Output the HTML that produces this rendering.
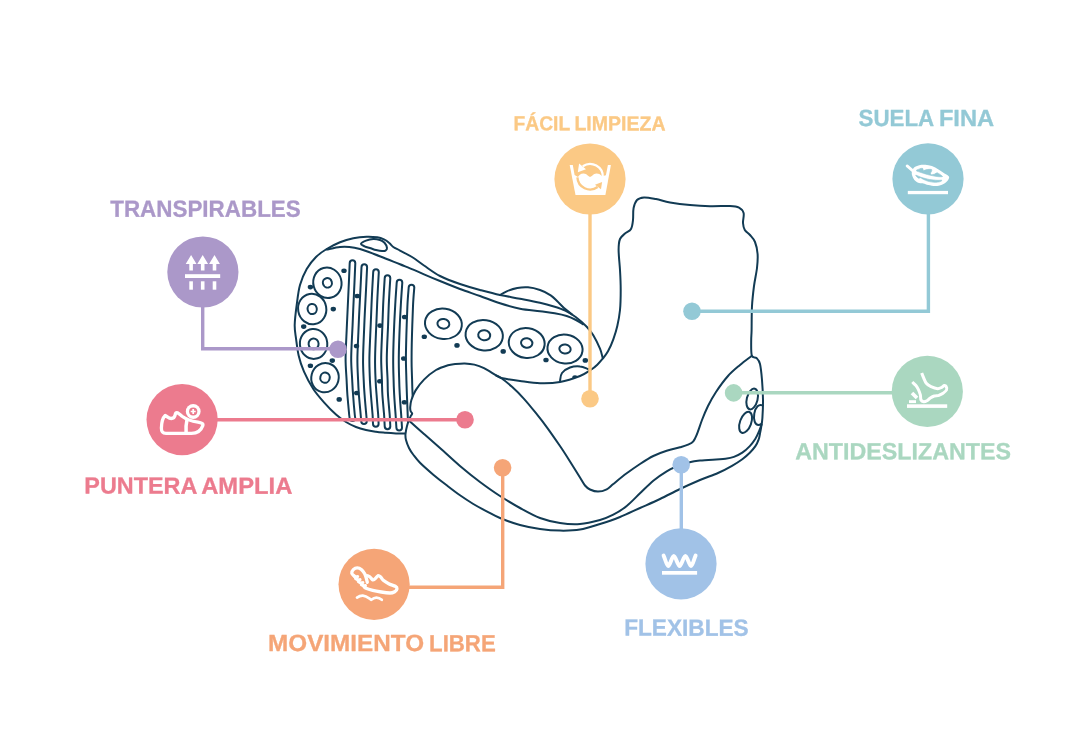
<!DOCTYPE html>
<html lang="es">
<head>
<meta charset="utf-8">
<title>Características</title>
<style>
html,body{margin:0;padding:0;background:#fff;}
body{width:1080px;height:750px;overflow:hidden;}
svg{display:block;will-change:transform;}
text{font-family:"Liberation Sans",sans-serif;font-weight:bold;stroke-linejoin:round;text-rendering:geometricPrecision;}
.ln{fill:none;stroke-width:3.4;}
.sh{fill:none;stroke:#123b54;stroke-width:2;stroke-linecap:round;stroke-linejoin:round;}
.ic{fill:none;stroke:#fff;stroke-width:2.4;stroke-linecap:round;stroke-linejoin:round;}
</style>
</head>
<body>
<svg width="1080" height="750" viewBox="0 0 1080 750">
<rect width="1080" height="750" fill="#fff"/>

<!-- SHOE -->
<g id="shoe" class="sh">
<path d="M405.3 433.5C403.8 433.5 399.2 433.5 396.0 433.4C392.8 433.3 389.3 433.1 386.0 432.8C382.7 432.5 379.3 432.3 376.0 431.8C372.7 431.3 369.3 430.8 366.0 430.0C362.7 429.2 359.3 428.3 356.0 427.0C352.7 425.7 349.3 424.1 346.0 422.0C342.7 419.9 339.7 417.8 336.0 414.5C332.3 411.2 327.8 406.6 324.0 402.3C320.2 398.1 316.6 394.1 313.3 389.0C310.0 383.9 306.4 377.2 304.0 371.7C301.6 366.1 300.0 361.3 298.7 355.7C297.4 350.1 296.7 343.4 296.0 338.3C295.3 333.2 294.6 330.6 294.7 325.0C294.8 319.4 295.8 311.7 296.7 305.0C297.6 298.3 298.3 291.0 300.0 285.0C301.7 279.0 304.0 273.7 306.7 269.0C309.4 264.3 312.7 260.3 316.0 257.0C319.3 253.7 322.7 251.4 326.7 249.0C330.7 246.6 335.6 244.1 340.0 242.3C344.4 240.5 348.9 239.2 353.3 238.3C357.8 237.4 362.7 236.9 366.7 236.7C370.7 236.5 374.4 236.9 377.3 237.3C380.2 237.8 382.0 238.5 384.0 239.4C386.0 240.3 387.8 241.7 389.3 243.0C390.9 244.3 391.5 245.7 393.3 247.0C395.1 248.3 396.9 248.9 400.0 250.6C403.1 252.3 408.0 254.5 412.0 257.0C416.0 259.5 419.3 262.3 424.0 265.5C428.7 268.7 434.0 272.9 440.0 276.0C446.0 279.1 453.3 281.7 460.0 284.0C466.7 286.3 473.3 288.2 480.0 290.0C486.7 291.8 493.3 293.6 500.0 295.0C506.7 296.4 513.3 297.4 520.0 298.7C526.7 300.0 534.2 301.4 540.0 302.7C545.8 304.0 550.5 305.4 554.7 306.7C558.9 308.0 561.8 308.9 565.3 310.7C568.8 312.5 572.4 314.6 576.0 317.3C579.6 320.0 583.8 323.7 586.7 326.7C589.6 329.7 591.1 331.6 593.3 335.3C595.5 339.0 598.4 344.9 600.0 348.7C601.6 352.5 602.2 356.4 602.7 358.0"/>
<path d="M326.7 249.5C328.9 249.1 336.2 247.4 340.0 247.0C343.8 246.6 346.0 246.7 349.3 247.0C352.6 247.3 356.0 247.9 360.0 249.0C364.0 250.1 368.9 252.0 373.3 253.7C377.8 255.4 382.2 257.2 386.7 259.0C391.1 260.8 395.6 262.5 400.0 264.3C404.4 266.1 409.3 268.0 413.3 269.7C417.3 271.4 419.6 272.4 424.0 274.3C428.4 276.2 434.0 278.6 440.0 281.0C446.0 283.4 453.3 286.5 460.0 289.0C466.7 291.5 473.3 293.6 480.0 296.0C486.7 298.4 493.3 301.2 500.0 303.3C506.7 305.4 513.3 307.4 520.0 308.7C526.7 310.0 534.2 310.5 540.0 311.3C545.8 312.1 550.2 312.5 554.7 313.3C559.2 314.1 563.2 314.9 566.7 316.0C570.2 317.1 573.3 318.6 576.0 320.0C578.7 321.4 581.8 323.6 583.0 324.3"/>
<path d="M500.0 295.0C501.1 294.4 503.8 292.5 506.7 291.3C509.6 290.1 513.8 288.7 517.3 288.0C520.8 287.3 524.2 287.0 528.0 287.3C531.8 287.6 536.2 288.7 540.0 290.0C543.8 291.3 547.8 293.4 550.7 295.3C553.6 297.2 555.1 299.2 557.3 301.3C559.5 303.4 561.5 305.8 564.0 308.0C566.5 310.2 570.7 313.4 572.0 314.5"/>
<path d="M361.0 243.7C361.2 242.8 363.9 241.4 366.0 240.6C368.1 239.8 371.0 239.1 373.3 239.0C375.6 238.9 378.1 239.4 380.0 240.0C381.9 240.6 383.3 241.5 384.5 242.8C385.7 244.1 386.8 246.7 387.0 248.0C387.2 249.3 386.3 250.1 385.5 250.6C384.7 251.1 383.6 251.1 382.0 251.0C380.4 250.9 377.9 250.4 376.0 250.0C374.1 249.6 372.6 248.9 370.7 248.3C368.8 247.7 366.1 247.1 364.5 246.3C362.9 245.5 360.8 244.6 361.0 243.7Z"/>
<path d="M560.0 381.0C560.3 379.7 560.3 375.2 562.0 373.0C563.7 370.8 567.0 368.6 570.0 367.5C573.0 366.4 577.0 366.1 580.0 366.4C583.0 366.6 586.7 368.6 588.0 369.0"/>
<ellipse cx="327.4" cy="282.8" rx="14.1" ry="15.3" transform="rotate(-15 327.4 282.8)"/>
<ellipse cx="327.4" cy="282.8" rx="4.5" ry="4.8" transform="rotate(-15 327.4 282.8)"/>
<ellipse cx="312.2" cy="309.0" rx="14.1" ry="15.3" transform="rotate(-10 312.2 309.0)"/>
<ellipse cx="312.2" cy="309.0" rx="4.6" ry="5.1" transform="rotate(-10 312.2 309.0)"/>
<ellipse cx="313.6" cy="343.9" rx="13.7" ry="15.0" transform="rotate(-5 313.6 343.9)"/>
<ellipse cx="313.6" cy="343.9" rx="5.0" ry="5.3" transform="rotate(-5 313.6 343.9)"/>
<ellipse cx="325.0" cy="377.7" rx="13.7" ry="14.7" transform="rotate(15 325.0 377.7)"/>
<ellipse cx="325.0" cy="377.7" rx="4.7" ry="5.1" transform="rotate(15 325.0 377.7)"/>
<ellipse cx="443.4" cy="323.8" rx="18.5" ry="15.2" transform="rotate(8 443.4 323.8)"/>
<ellipse cx="443.4" cy="323.8" rx="6.0" ry="4.8" transform="rotate(8 443.4 323.8)"/>
<ellipse cx="484.2" cy="335.2" rx="18.7" ry="15.2" transform="rotate(8 484.2 335.2)"/>
<ellipse cx="484.2" cy="335.2" rx="6.0" ry="5.0" transform="rotate(8 484.2 335.2)"/>
<ellipse cx="526.7" cy="343.0" rx="18.0" ry="15.0" transform="rotate(8 526.7 343.0)"/>
<ellipse cx="526.7" cy="343.0" rx="5.7" ry="4.7" transform="rotate(8 526.7 343.0)"/>
<ellipse cx="565.0" cy="349.0" rx="17.6" ry="14.4" transform="rotate(8 565.0 349.0)"/>
<ellipse cx="565.0" cy="349.0" rx="5.7" ry="4.5" transform="rotate(8 565.0 349.0)"/>
<path d="M349.7 418.2C349.6 417.7 349.6 418.9 349.2 415.0C348.8 411.1 347.9 400.8 347.4 395.0C347.0 389.2 346.9 386.2 346.6 380.0C346.3 373.8 345.5 366.7 345.6 357.5C345.7 348.3 346.5 335.4 346.9 325.0C347.4 314.6 347.8 305.3 348.3 295.0C348.8 284.7 349.5 268.4 349.7 263.1C349.9 259.4 355.1 259.4 355.3 263.1C355.1 268.4 354.4 284.7 353.9 295.0C353.4 305.3 353.0 314.6 352.6 325.0C352.1 335.4 351.3 348.3 351.2 357.5C351.1 366.7 351.9 373.8 352.2 380.0C352.5 386.2 352.6 389.2 353.1 395.0C353.5 400.8 354.4 411.1 354.8 415.0C355.2 418.9 355.2 417.7 355.3 418.2C355.1 421.9 349.9 421.9 349.7 418.2Z"/>
<path d="M361.2 421.2C361.1 420.2 361.1 419.4 360.7 415.0C360.3 410.6 359.4 400.8 358.9 395.0C358.5 389.2 358.3 386.2 358.1 380.0C357.8 373.8 357.3 366.7 357.4 357.5C357.6 348.3 358.3 335.2 358.7 325.0C359.1 314.8 359.6 305.6 360.1 296.0C360.6 286.4 361.3 271.9 361.5 267.1C361.7 263.4 366.9 263.4 367.1 267.1C366.9 271.9 366.2 286.4 365.7 296.0C365.2 305.6 364.7 314.8 364.3 325.0C363.9 335.2 363.2 348.3 363.1 357.5C362.9 366.7 363.4 373.8 363.7 380.0C363.9 386.2 364.1 389.2 364.6 395.0C365.0 400.8 365.9 410.6 366.3 415.0C366.7 419.4 366.7 420.2 366.8 421.2C366.6 424.9 361.4 424.9 361.2 421.2Z"/>
<path d="M373.0 424.0C372.9 422.5 372.9 419.8 372.6 415.0C372.2 410.2 371.4 400.8 370.9 395.0C370.5 389.2 370.2 386.2 369.9 380.0C369.7 373.8 369.3 366.7 369.4 357.5C369.6 348.3 370.3 334.9 370.7 325.0C371.1 315.1 371.4 306.8 371.8 298.0C372.2 289.2 373.0 276.4 373.2 272.1C373.4 268.4 378.6 268.4 378.8 272.1C378.6 276.4 377.8 289.2 377.4 298.0C377.0 306.8 376.7 315.1 376.3 325.0C375.9 334.9 375.2 348.3 375.1 357.5C374.9 366.7 375.3 373.8 375.6 380.0C375.8 386.2 376.1 389.2 376.6 395.0C377.0 400.8 377.8 410.2 378.2 415.0C378.5 419.8 378.5 422.5 378.6 424.0C378.4 427.7 373.2 427.7 373.0 424.0Z"/>
<path d="M384.7 426.4C384.6 424.5 384.5 420.2 384.1 415.0C383.7 409.8 382.8 400.8 382.4 395.0C382.0 389.2 382.1 386.2 381.9 380.0C381.8 373.8 381.1 366.7 381.2 357.5C381.3 348.3 382.1 334.6 382.4 325.0C382.8 315.4 383.0 307.8 383.4 300.0C383.8 292.2 384.5 281.8 384.7 278.1C384.9 274.4 390.1 274.4 390.3 278.1C390.1 281.8 389.4 292.2 389.0 300.0C388.6 307.8 388.4 315.4 388.1 325.0C387.7 334.6 386.9 348.3 386.8 357.5C386.7 366.7 387.4 373.8 387.6 380.0C387.8 386.2 387.6 389.2 388.0 395.0C388.4 400.8 389.3 409.8 389.7 415.0C390.1 420.2 390.2 424.5 390.3 426.4C390.1 430.1 384.9 430.1 384.7 426.4Z"/>
<path d="M396.4 427.7C396.3 425.6 395.9 420.4 395.6 415.0C395.2 409.6 394.5 400.8 394.2 395.0C393.9 389.2 393.7 386.2 393.6 380.0C393.4 373.8 393.1 366.7 393.2 357.5C393.3 348.3 393.8 334.2 394.2 325.0C394.6 315.8 395.0 309.1 395.4 302.0C395.8 294.9 396.5 285.8 396.7 282.6C396.9 278.9 402.1 278.9 402.3 282.6C402.1 285.8 401.4 294.9 401.0 302.0C400.6 309.1 400.2 315.8 399.8 325.0C399.4 334.2 398.9 348.3 398.8 357.5C398.7 366.7 399.0 373.8 399.2 380.0C399.3 386.2 399.5 389.2 399.8 395.0C400.1 400.8 400.8 409.6 401.2 415.0C401.5 420.4 401.9 425.6 402.0 427.7C401.8 431.4 396.6 431.4 396.4 427.7Z"/>
<path d="M408.2 427.2C408.1 425.2 407.9 420.4 407.7 415.0C407.5 409.6 407.2 400.8 406.9 395.0C406.7 389.2 406.6 386.2 406.4 380.0C406.3 373.8 405.9 366.7 405.9 357.5C406.0 348.3 406.4 333.9 406.7 325.0C407.0 316.1 407.2 310.3 407.5 304.0C407.8 297.7 408.5 290.2 408.7 287.4C408.9 283.7 414.1 283.7 414.3 287.4C414.1 290.2 413.4 297.7 413.1 304.0C412.8 310.3 412.6 316.1 412.3 325.0C412.0 333.9 411.6 348.3 411.6 357.5C411.5 366.7 411.9 373.8 412.1 380.0C412.2 386.2 412.3 389.2 412.6 395.0C412.8 400.8 413.1 409.6 413.3 415.0C413.5 420.4 413.7 425.2 413.8 427.2C413.6 430.9 408.4 430.9 408.2 427.2Z"/>
<g fill="#123b54" stroke="none"><ellipse cx="344.0" cy="270.7" rx="2.7" ry="2.3"/><ellipse cx="310.4" cy="287.1" rx="2.7" ry="2.3"/><ellipse cx="333.3" cy="309.1" rx="2.7" ry="2.3"/><ellipse cx="357.3" cy="296.0" rx="2.7" ry="2.3"/><ellipse cx="404.6" cy="317.0" rx="2.7" ry="2.3"/><ellipse cx="303.7" cy="326.6" rx="2.7" ry="2.3"/><ellipse cx="356.5" cy="346.0" rx="2.7" ry="2.3"/><ellipse cx="332.3" cy="360.6" rx="2.7" ry="2.3"/><ellipse cx="310.4" cy="365.7" rx="2.7" ry="2.3"/><ellipse cx="339.2" cy="399.4" rx="2.7" ry="2.3"/><ellipse cx="356.7" cy="393.0" rx="2.7" ry="2.3"/><ellipse cx="379.8" cy="381.2" rx="2.7" ry="2.3"/><ellipse cx="380.0" cy="325.6" rx="2.7" ry="2.3"/><ellipse cx="403.7" cy="358.5" rx="2.7" ry="2.3"/><ellipse cx="404.4" cy="402.3" rx="2.7" ry="2.3"/><ellipse cx="424.3" cy="336.8" rx="2.7" ry="2.3"/><ellipse cx="457.0" cy="345.4" rx="2.7" ry="2.3"/><ellipse cx="503.2" cy="351.4" rx="2.7" ry="2.3"/><ellipse cx="546.0" cy="360.0" rx="2.7" ry="2.3"/><ellipse cx="585.3" cy="360.4" rx="2.7" ry="2.3"/><ellipse cx="575.0" cy="377.6" rx="2.7" ry="2.3"/></g>
<path d="M620.0 270.0C620.4 276.7 620.7 283.3 620.7 290.0C620.7 296.7 620.6 304.0 620.0 310.0C619.4 316.0 618.4 321.1 617.3 326.0C616.2 330.9 614.8 335.1 613.3 339.3C611.8 343.5 609.8 348.1 608.0 351.3C606.2 354.5 604.5 356.5 602.7 358.7C600.9 360.9 599.3 362.8 597.3 364.7C595.3 366.6 593.6 368.1 590.7 370.0C587.8 371.9 585.1 374.0 580.0 376.0C574.9 378.0 566.7 380.8 560.0 382.0C553.3 383.2 546.7 383.4 540.0 383.2C533.3 383.0 525.3 381.6 520.0 380.9C514.7 380.2 511.2 379.7 508.0 379.2C504.8 378.7 502.0 378.0 500.8 377.8C499.6 377.6 501.6 378.2 500.8 377.8C500.0 377.4 498.8 377.0 496.0 375.4C493.2 373.8 487.6 370.0 484.0 368.2C480.4 366.4 477.6 365.4 474.4 364.6C471.2 363.8 468.0 363.5 464.8 363.4C461.6 363.3 458.0 363.7 455.2 364.0C452.4 364.3 451.2 364.2 448.0 365.2C444.8 366.2 440.0 367.6 436.0 370.0C432.0 372.4 427.4 376.2 424.0 379.6C420.6 383.0 417.7 387.0 415.6 390.4C413.5 393.8 412.3 397.2 411.4 400.0C410.5 402.8 410.3 405.4 410.2 407.2C410.1 409.0 410.3 409.9 410.6 411.0C410.9 412.1 412.2 412.7 412.2 413.6C412.2 414.5 411.1 415.3 410.6 416.4C410.1 417.5 409.6 418.4 409.0 420.0C408.4 421.6 407.6 423.7 407.0 426.0C406.4 428.3 405.7 431.7 405.5 434.0C405.3 436.3 405.4 437.7 406.0 440.0C406.6 442.3 407.8 445.5 409.0 448.0C410.2 450.5 411.7 452.6 413.5 455.0C415.3 457.4 416.7 459.4 420.0 462.7C423.3 466.0 428.9 470.9 433.3 474.7C437.8 478.5 442.2 481.9 446.7 485.3C451.1 488.7 455.6 492.2 460.0 495.3C464.4 498.4 468.9 501.3 473.3 504.0C477.8 506.7 482.2 509.0 486.7 511.3C491.1 513.6 494.4 515.7 500.0 518.0C505.6 520.3 513.3 523.2 520.0 525.0C526.7 526.8 533.3 528.1 540.0 529.0C546.7 529.9 553.3 530.5 560.0 530.6C566.7 530.7 573.3 530.7 580.0 529.6C586.7 528.5 593.3 526.1 600.0 524.0C606.7 521.9 613.3 519.7 620.0 517.0C626.7 514.3 633.3 511.0 640.0 508.0C646.7 505.0 653.3 502.2 660.0 499.0C666.7 495.8 673.3 492.2 680.0 489.0C686.7 485.8 693.7 482.7 700.0 480.0C706.3 477.3 712.7 475.4 718.0 473.0C723.3 470.6 728.0 468.1 732.0 465.8C736.0 463.5 739.3 461.4 742.3 459.2C745.3 457.0 747.6 454.9 749.8 452.7C752.0 450.5 753.9 448.3 755.4 446.1C756.9 443.9 757.9 441.6 758.6 439.6C759.4 437.6 759.5 436.0 759.9 434.0C760.3 432.0 760.7 430.2 761.1 427.5C761.5 424.8 762.1 422.6 762.4 418.0C762.7 413.4 763.1 406.3 763.0 400.0C762.9 393.7 762.5 386.0 762.0 380.0C761.5 374.0 760.9 367.7 760.0 364.0C759.1 360.3 757.9 359.4 756.5 358.0C755.1 356.6 752.7 358.5 751.8 355.5C750.9 352.5 751.2 344.2 751.2 340.0C751.2 335.8 751.5 335.7 751.6 330.0C751.7 324.3 751.6 313.3 752.0 306.0C752.4 298.7 753.2 292.3 754.0 286.0C754.8 279.7 756.4 273.3 757.0 268.0C757.6 262.7 757.9 258.3 757.6 254.0C757.3 249.7 756.3 245.2 755.0 242.0C753.7 238.8 751.7 237.0 750.0 235.0C748.3 233.0 746.0 232.0 744.8 230.0C743.6 228.0 743.2 225.8 743.0 223.0C742.8 220.2 744.3 215.6 743.6 213.0C742.9 210.4 741.3 208.8 739.0 207.6C736.7 206.4 734.8 206.2 730.0 206.0C725.2 205.8 716.7 206.4 710.0 206.2C703.3 206.0 696.7 205.6 690.0 205.0C683.3 204.4 675.7 203.4 670.0 202.4C664.3 201.4 660.3 199.8 656.0 199.0C651.7 198.2 647.2 197.2 644.0 197.4C640.8 197.6 638.7 198.2 637.0 200.0C635.3 201.8 634.3 204.7 633.6 208.0C632.9 211.3 633.4 216.5 633.0 220.0C632.6 223.5 632.3 226.7 631.0 229.0C629.7 231.3 626.8 231.9 625.0 233.6C623.2 235.3 621.1 236.3 620.0 239.0C618.9 241.7 618.6 244.8 618.6 250.0C618.6 255.2 619.6 263.3 620.0 270.0Z" fill="#fff"/>
<path d="M496.0 375.4C496.8 375.8 498.1 375.9 500.8 377.8C503.5 379.7 508.1 383.3 512.0 386.8C515.9 390.3 520.0 394.4 524.0 398.8C528.0 403.2 532.0 408.2 536.0 413.2C540.0 418.2 544.0 423.3 548.0 428.8C552.0 434.3 556.3 440.6 560.0 446.0C563.7 451.4 566.7 456.2 570.0 461.5C573.3 466.8 577.5 473.5 580.0 477.5C582.5 481.5 583.3 483.5 585.0 485.5C586.7 487.5 587.8 488.5 590.0 489.5C592.2 490.5 595.2 491.6 598.0 491.6C600.8 491.6 604.2 490.6 606.7 489.3C609.2 488.0 610.0 486.7 613.3 484.0C616.6 481.3 622.2 476.6 626.7 473.3C631.2 470.0 635.6 466.9 640.0 464.0C644.4 461.1 648.8 458.2 653.3 456.0C657.8 453.8 662.2 452.1 666.7 450.7C671.2 449.2 676.5 448.3 680.0 447.3C683.5 446.3 685.8 445.7 688.0 444.7C690.2 443.7 691.8 443.1 693.3 441.3C694.8 439.5 695.5 437.6 697.0 434.0C698.5 430.4 700.2 424.7 702.0 420.0C703.8 415.3 705.7 410.7 708.0 406.0C710.3 401.3 712.7 397.0 716.0 392.0C719.3 387.0 724.0 380.5 728.0 376.0C732.0 371.5 736.1 368.3 740.0 365.0C743.9 361.7 749.7 357.5 751.6 356.0"/>
<path d="M410.0 421.5C412.3 423.6 419.0 429.6 424.0 434.0C429.0 438.4 434.0 442.7 440.0 448.0C446.0 453.3 453.3 460.3 460.0 466.0C466.7 471.7 473.3 477.0 480.0 482.0C486.7 487.0 493.3 491.7 500.0 496.0C506.7 500.3 513.3 504.3 520.0 508.0C526.7 511.7 533.3 515.5 540.0 518.0C546.7 520.5 553.3 522.0 560.0 523.0C566.7 524.0 573.3 524.5 580.0 524.0C586.7 523.5 594.5 521.5 600.0 520.0C605.5 518.5 608.8 517.0 613.3 514.7C617.8 512.4 622.2 509.6 626.7 506.0C631.2 502.4 635.6 497.5 640.0 493.3C644.4 489.1 648.8 484.4 653.3 480.7C657.8 477.0 663.1 473.5 666.7 471.3C670.3 469.1 670.7 468.9 674.7 467.3C678.7 465.8 686.5 463.1 690.7 462.0C694.9 460.9 695.8 461.0 700.0 460.6C704.2 460.2 711.9 459.7 716.1 459.4C720.4 459.1 722.5 459.1 725.5 458.7C728.5 458.3 731.1 457.9 733.9 456.9C736.7 455.9 739.6 454.5 742.3 452.7C744.9 450.9 747.6 448.4 749.8 446.1C752.0 443.8 753.8 441.2 755.4 438.7C757.0 436.2 758.1 433.6 759.1 431.2C760.1 428.8 761.2 425.6 761.6 424.5"/>
<ellipse cx="752.2" cy="399" rx="5.4" ry="10.6" transform="rotate(14 752.2 399)"/>
<ellipse cx="745.6" cy="422.4" rx="5.6" ry="11" transform="rotate(20 745.6 422.4)"/>
<path d="M762.6 405.5C759 403.5 755.5 407 754.3 413.5C753.2 420 755 425 758.5 425C759.5 425 760.3 424.6 761 424"/>
</g>

<!-- CONNECTORS -->
<g id="connectors">
  <path class="ln" stroke="#ab98c9" d="M202.7 300V348.7H338"/>
  <circle cx="338" cy="349.3" r="8.8" fill="#ab98c9"/>
  <path class="ln" stroke="#ec7b8e" d="M215 419.7H465"/>
  <circle cx="465" cy="419.7" r="8.8" fill="#ec7b8e"/>
  <path class="ln" stroke="#fbc985" d="M590 210V399"/>
  <circle cx="590" cy="398.8" r="8.8" fill="#fbc985"/>
  <path class="ln" stroke="#93c9d6" d="M928.4 210V311.2H692"/>
  <circle cx="692" cy="311.2" r="8.8" fill="#93c9d6"/>
  <path class="ln" stroke="#aad7c0" d="M900 392.8H733.6"/>
  <circle cx="733.6" cy="392.9" r="8.8" fill="#aad7c0"/>
  <path class="ln" stroke="#a1c2e7" d="M681.3 535V465"/>
  <circle cx="681.2" cy="464.8" r="8.8" fill="#a1c2e7"/>
  <path class="ln" stroke="#f5a577" d="M405 587.3H502.7V468"/>
  <circle cx="502.6" cy="467.8" r="8.8" fill="#f5a577"/>
</g>

<!-- BADGES -->
<g id="badges">
  <circle cx="202.9" cy="272" r="35.6" fill="#ab98c9"/>
  <circle cx="182.1" cy="419.6" r="35.6" fill="#ec7b8e"/>
  <circle cx="590" cy="179" r="35.6" fill="#fbc985"/>
  <circle cx="928" cy="178.8" r="35.6" fill="#93c9d6"/>
  <circle cx="927.3" cy="391.4" r="35.6" fill="#aad7c0"/>
  <circle cx="681" cy="563.8" r="35.6" fill="#a1c2e7"/>
  <circle cx="374.1" cy="584.3" r="35.6" fill="#f5a577"/>
</g>

<!-- ICONS -->
<g id="icons">
<g fill="#fff"><path d="M191.1 254.9L196.5 263.9H192.9V270.6H189.3V263.9H185.7Z"/><rect x="189.3" y="281.3" width="3.6" height="8.4"/><path d="M202.7 254.9L208.1 263.9H204.5V270.6H200.9V263.9H197.3Z"/><rect x="200.9" y="281.3" width="3.6" height="8.4"/><path d="M214.5 254.9L219.9 263.9H216.3V270.6H212.7V263.9H209.1Z"/><rect x="212.7" y="281.3" width="3.6" height="8.4"/><rect x="185" y="274.2" width="35.2" height="3.8"/></g>
<g class="ic" style="stroke-width:3.3"><path d="M165.2 415.5C162.6 418 161.5 423 161.4 428C161.3 431.6 162.6 433.3 166 433.3H191.5C197.5 433.3 201.3 429.8 202.8 425.6C203.5 423.8 201.6 422.8 198 422.2C191 421 186 419.2 182 416.2C180 414.6 178.7 413.4 177.5 412.8C176.1 412.2 175.4 413.2 175.1 415C174.7 417.4 173.6 418.5 171.2 418.5C168.7 418.5 167.2 416.3 165.2 415.5Z"/><path d="M186.9 420.4C185.9 424.5 185.8 429 186.1 433.2" style="stroke-width:3.5"/></g><circle cx="193.2" cy="411.5" r="7.4" fill="#fff"/><circle cx="193.2" cy="411.5" r="4.1" fill="#ec7b8e"/><path d="M190.7 411.5H195.7M193.2 409V414" stroke="#fff" stroke-width="1.7" fill="none"/>
<g><path fill="#fff" d="M569.7 165.1H610.9L605.4 195H575.5Z"/><path fill="#fbc985" d="M572.8 165L574.6 174.9L578 176.9C578.6 175.6 580.4 173.4 583.7 173.4C586.9 173.4 588.3 176.8 590.1 176.8C591.9 176.8 593.3 173.4 596.4 173.4C599.2 173.4 600.8 174.8 602 176.2L605.9 175.3L607.9 165Z"/><path fill="none" stroke="#fff" stroke-width="2.3" d="M582.8 166.3A12.7 12.7 0 0 1 602.8 177.4"/><path fill="#fff" d="M577.8 172.3L579.1 163.6L586 169.2Z"/><path fill="none" stroke="#fbc985" stroke-width="2.3" d="M577.4 177.4A12.7 12.7 0 0 0 597.6 187.0"/><path fill="#fbc985" d="M602.1 181.9L601 189.3L595 184.8Z"/></g>
<path fill="#fff" d="M914.1 167.6C915.3 166.5 917.3 165.8 919.2 165.3C921.1 164.8 923.2 164.7 925.3 164.8C927.4 164.9 929.7 165.3 931.9 166.1C934.1 166.9 936.4 168.4 938.5 169.6C940.6 170.8 942.7 172.2 944.5 173.4C946.3 174.6 948.7 175.4 949.1 176.7C949.5 178.0 948.3 180.0 947.1 181.3C945.9 182.7 944.0 184.0 942.0 184.8C940.0 185.6 937.7 186.1 935.4 186.1C933.1 186.1 930.3 185.5 928.3 185.1C926.3 184.7 924.8 183.7 923.3 183.4C921.8 183.1 920.6 183.5 919.2 183.1C917.9 182.7 916.3 182.0 915.2 180.8C914.1 179.7 913.0 177.7 912.4 176.2C911.8 174.7 911.6 173.1 911.9 171.7C912.2 170.3 912.9 168.7 914.1 167.6Z"/><path fill="#93c9d6" stroke="#93c9d6" stroke-width="0.7" stroke-linejoin="round" d="M916.2 170.6C916.1 170.1 920.4 168.6 921.2 168.4C922.0 168.2 922.5 168.3 922.8 168.6C923.1 168.9 923.0 170.5 923.5 170.6C924.0 170.7 925.9 169.7 926.8 169.6C927.7 169.5 930.8 169.2 931.4 169.4C932.0 169.6 931.7 170.5 931.6 170.9C931.5 171.3 930.4 172.8 930.4 173.2C930.4 173.6 930.9 174.6 931.4 174.7C931.9 174.8 933.7 174.4 934.4 174.2C935.1 174.0 936.6 172.6 937.5 172.9C938.4 173.2 942.6 176.1 942.5 176.5C942.4 176.9 938.4 176.7 936.9 176.5C935.4 176.3 931.1 175.4 929.3 175.0C927.5 174.6 923.2 173.2 921.7 172.7C920.2 172.2 916.3 171.1 916.2 170.6ZM915.9 175.2C916.5 175.3 920.1 177.0 921.7 177.5C923.3 178.0 927.5 179.2 929.3 179.5C931.1 179.8 935.4 180.2 936.9 180.3C938.4 180.4 941.7 180.1 942.0 180.3C942.3 180.5 940.4 181.6 939.5 181.8C938.6 182.0 935.7 182.4 934.4 182.3C933.1 182.2 929.6 181.7 928.3 181.3C927.0 181.0 924.2 179.7 923.3 179.3C922.4 178.9 921.2 177.8 920.7 177.7C920.2 177.6 919.2 178.3 918.7 178.2C918.2 178.1 917.0 177.0 916.7 176.7C916.4 176.3 915.3 175.1 915.9 175.2Z"/><path d="M907.1 165.9L912.6 170.6" fill="none" stroke="#fff" stroke-width="2.8" stroke-linecap="round"/><rect x="907.8" y="190.9" width="40.2" height="3.3" fill="#fff"/>
<g class="ic" style="stroke-width:3;stroke-linecap:butt"><path d="M921.7 373.0C922.0 373.8 922.9 376.3 923.7 378.0C924.5 379.7 925.1 381.9 926.3 383.3C927.5 384.8 929.1 385.8 931.0 386.7C932.9 387.6 935.9 388.6 937.7 388.7C939.5 388.8 940.6 387.8 941.7 387.3C942.8 386.8 943.5 385.6 944.3 385.5C945.1 385.4 945.9 385.9 946.3 386.7C946.7 387.4 947.0 388.9 946.5 390.0C946.0 391.1 944.2 392.4 943.0 393.3C941.8 394.2 940.5 394.9 939.0 395.3C937.5 395.8 935.8 395.6 934.3 396.0C932.8 396.4 931.5 397.2 930.3 398.0C929.1 398.8 928.1 400.1 927.0 400.7C925.9 401.3 924.7 401.8 923.7 401.7C922.7 401.6 921.6 401.2 921.0 400.0C920.4 398.8 920.8 396.5 920.3 394.7C919.8 392.9 919.1 390.9 918.3 389.3C917.5 387.7 916.7 386.5 915.7 385.3C914.7 384.1 912.9 382.6 912.3 382.0"/><path d="M912 392.9L917 398" style="stroke-width:3.6"/></g><rect x="909" y="400.2" width="7" height="2.9" fill="#fff"/><rect x="907" y="404.3" width="40.2" height="3.6" fill="#fff"/>
<path class="ic" style="stroke-width:3.9" d="M663.6 555.6C665.5 559.5 666.6 566 668.2 566C670 566 672 555.9 673.8 555.9C675.6 555.9 677.8 566 679.6 566C681.4 566 683.6 555.9 685.4 555.9C687.2 555.9 689.3 566 691 566C692.7 566 693.8 559.5 695.6 555.6"/><rect x="662" y="571" width="35.1" height="3.7" fill="#fff"/>
<g class="ic" style="stroke-width:3.3"><path d="M367.3 582.3C367.1 581.6 366.7 579.7 366.3 578.3C365.9 576.9 365.5 575.2 364.7 573.7C363.9 572.2 362.5 570.5 361.3 569.5C360.1 568.5 358.6 567.9 357.3 567.9C356.0 567.9 354.2 568.8 353.3 569.7C352.4 570.6 351.6 572.2 351.8 573.3C352.0 574.4 353.9 575.7 354.3 576.2"/><path d="M354.3 576.2C355.5 577 356.5 577.2 357.6 576.6M355.6 578.6C357.3 580 358.6 580.2 360 579.6M358.4 581.6C360 583 361.4 583.2 362.8 582.6M361.4 584.6C362.8 585.6 364 586 365.4 585.6" style="stroke-width:3.2"/><path d="M367.3 575.7C367.8 575.9 369.1 576.3 370.0 577.0C370.9 577.7 371.8 579.6 372.7 579.9C373.6 580.1 374.4 579.2 375.3 578.5C376.2 577.8 377.1 576.0 378.0 575.7C378.9 575.5 379.8 576.2 380.7 577.0C381.6 577.8 382.0 579.2 383.3 580.3C384.6 581.4 386.7 582.7 388.7 583.7C390.7 584.7 393.9 585.5 395.3 586.3C396.7 587.1 397.1 587.8 397.0 588.7C396.9 589.6 395.9 591.0 394.7 591.7C393.5 592.4 392.2 593.0 390.0 593.0C387.8 593.0 384.2 592.5 381.3 592.0C378.4 591.5 375.2 590.9 372.7 590.3C370.1 589.7 367.4 588.9 366.0 588.3C364.6 587.7 364.3 587.0 364.0 586.7"/><path d="M357 597.6C359 596.2 361 595.6 362.9 595.7C366.5 595.9 369 598.4 371.3 599.8C373 598.4 374.8 597.6 376.4 597.6C378.6 597.6 380.4 598.6 381.8 599.8" style="stroke-width:2.7"/></g>
</g>

<!-- LABELS -->
<g id="labels">
  <text y="216" transform="matrix(1 0.0008 0 1 0 0.566)" font-size="23.4" fill="#ab98c9" stroke="#ab98c9" stroke-width="0.3"><tspan x="110.20" textLength="190.55" lengthAdjust="spacingAndGlyphs">TRANSPIRABLES</tspan></text>
  <text y="493" transform="matrix(1 0.0008 0 1 0 0.499)" font-size="23.4" fill="#ec7b8e" stroke="#ec7b8e" stroke-width="0.3"><tspan x="84.30" textLength="112.15" lengthAdjust="spacingAndGlyphs">PUNTERA</tspan> <tspan x="201.20" textLength="91.20" lengthAdjust="spacingAndGlyphs">AMPLIA</tspan></text>
  <text y="130" transform="matrix(1 0.0008 0 1 0 -0.122)" font-size="20.2" fill="#fbc985" stroke="#fbc985" stroke-width="0.3"><tspan x="513.45" textLength="56.45" lengthAdjust="spacingAndGlyphs">FÁCIL</tspan> <tspan x="574.45" textLength="91.05" lengthAdjust="spacingAndGlyphs">LIMPIEZA</tspan></text>
  <text y="126" transform="matrix(1 0.0008 0 1 0 -0.741)" font-size="23.4" fill="#93c9d6" stroke="#93c9d6" stroke-width="0.3"><tspan x="858.50" textLength="74.90" lengthAdjust="spacingAndGlyphs">SUELA</tspan> <tspan x="938.90" textLength="55.30" lengthAdjust="spacingAndGlyphs">FINA</tspan></text>
  <text y="459" transform="matrix(1 0.0008 0 1 0 -0.422)" font-size="23.4" fill="#aad7c0" stroke="#aad7c0" stroke-width="0.3"><tspan x="795.20" textLength="215.85" lengthAdjust="spacingAndGlyphs">ANTIDESLIZANTES</tspan></text>
  <text y="635" transform="matrix(1 0.0008 0 1 0 0.101)" font-size="23.4" fill="#a1c2e7" stroke="#a1c2e7" stroke-width="0.3"><tspan x="624.15" textLength="124.60" lengthAdjust="spacingAndGlyphs">FLEXIBLES</tspan></text>
  <text y="651" transform="matrix(1 0.0008 0 1 0 -0.206)" font-size="23.4" fill="#f5a577" stroke="#f5a577" stroke-width="0.3"><tspan x="268.10" textLength="155.95" lengthAdjust="spacingAndGlyphs">MOVIMIENTO</tspan> <tspan x="429.05" textLength="66.70" lengthAdjust="spacingAndGlyphs">LIBRE</tspan></text>
</g>
</svg>
</body>
</html>
